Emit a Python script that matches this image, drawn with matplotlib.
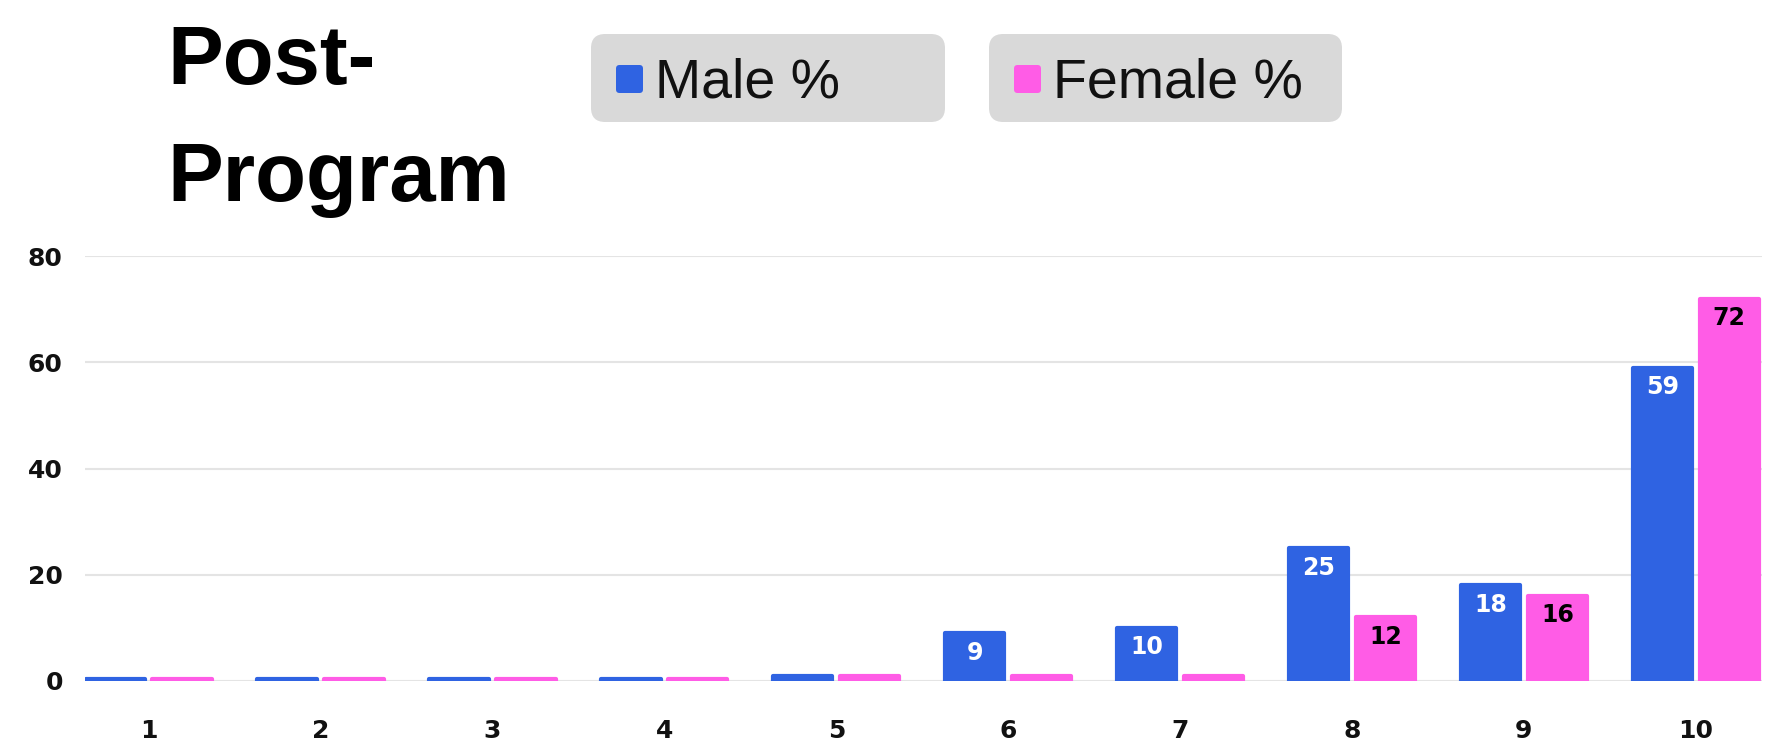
import matplotlib
matplotlib.use("Agg")
import matplotlib.pyplot as plt
from matplotlib.patches import FancyBboxPatch
import numpy as np

# data
scores = ["1", "2", "3", "4", "5", "6", "7", "8", "9", "10"]
male_pct = [0.4, 0.4, 0.4, 0.4, 1, 9, 10, 25, 18, 59]
female_pct = [0.4, 0.4, 0.4, 0.4, 1, 1, 1, 12, 16, 72]
series_names = ["Male %", "Female %"]
y_ticks = [0, 20, 40, 60, 80]

blue = "#2f63e2"
pink = "#ff5ce6"
grid_grey = "#e4e4e4"

fig = plt.figure(figsize=(17.78, 7.45), dpi=100)
fig.patch.set_facecolor("white")

# axes placed to match the reference pixel layout
ax = fig.add_axes([85 / 1778, 1 - 681 / 745, (1762 - 85) / 1778, (681 - 256) / 745])

x = np.arange(1, len(scores) + 1)
w = 0.345
gap = 0.022
# thick round-joined edges give the bars softly rounded corners
bars_m = ax.bar(x - w / 2 - gap, male_pct, width=w, color=blue, edgecolor=blue,
                linewidth=3, joinstyle="round", zorder=3)
bars_f = ax.bar(x + w / 2 + gap, female_pct, width=w, color=pink, edgecolor=pink,
                linewidth=3, joinstyle="round", zorder=3)

# value labels inside the top of the taller bars
for bars, vals, col in [(bars_m, male_pct, "white"), (bars_f, female_pct, "black")]:
    for b, v in zip(bars, vals):
        if v >= 5:
            ax.annotate(f"{v:g}", (b.get_x() + b.get_width() / 2, v),
                        xytext=(0, -14), textcoords="offset points",
                        ha="center", va="center", color=col,
                        fontsize=17, fontweight="bold", family="DejaVu Sans",
                        zorder=4)

ax.set_xlim(0.63, 10.385)
ax.set_ylim(0, 80)
ax.set_yticks(y_ticks)
ax.set_xticks(x)
ax.set_xticklabels(scores)
ax.yaxis.grid(True, color=grid_grey, linewidth=1.5, zorder=0)
ax.set_axisbelow(True)
for s in ax.spines.values():
    s.set_visible(False)
ax.tick_params(axis="both", length=0, labelsize=18)
ax.tick_params(axis="y", pad=16)
ax.tick_params(axis="x", pad=27)
for lab in ax.get_xticklabels() + ax.get_yticklabels():
    lab.set_fontweight("bold")
    lab.set_family("DejaVu Sans")
    lab.set_color("#111111")

# title
fig.text(167 / 1778, 1 - 84 / 745, "Post-", fontsize=60, fontweight="bold",
         family="Liberation Sans", ha="left", va="baseline")
fig.text(167 / 1778, 1 - 201 / 745, "Program", fontsize=60, fontweight="bold",
         family="Liberation Sans", ha="left", va="baseline")

# legend drawn as two grey rounded boxes
boxes = [(591, 945), (989, 1342)]
for (x0, x1), name, col in zip(boxes, series_names, [blue, pink]):
    box = FancyBboxPatch((x0 / 1778, 1 - 122 / 745), (x1 - x0) / 1778, 88 / 745,
                         boxstyle="round,pad=0,rounding_size=0.008",
                         transform=fig.transFigure, facecolor="#d9d9d9",
                         edgecolor="none", mutation_aspect=1778 / 745)
    fig.patches.append(box)
    sq = FancyBboxPatch(((x0 + 25) / 1778, 1 - 93 / 745), 27 / 1778, 28 / 745,
                        boxstyle="round,pad=0,rounding_size=0.002",
                        transform=fig.transFigure, facecolor=col,
                        edgecolor="none", mutation_aspect=1778 / 745)
    fig.patches.append(sq)
    fig.text((x0 + 64) / 1778, 1 - 84 / 745, name, fontsize=40,
             family="Liberation Sans", ha="left", va="center", color="#111111")

fig.savefig("out.png", dpi=100)
